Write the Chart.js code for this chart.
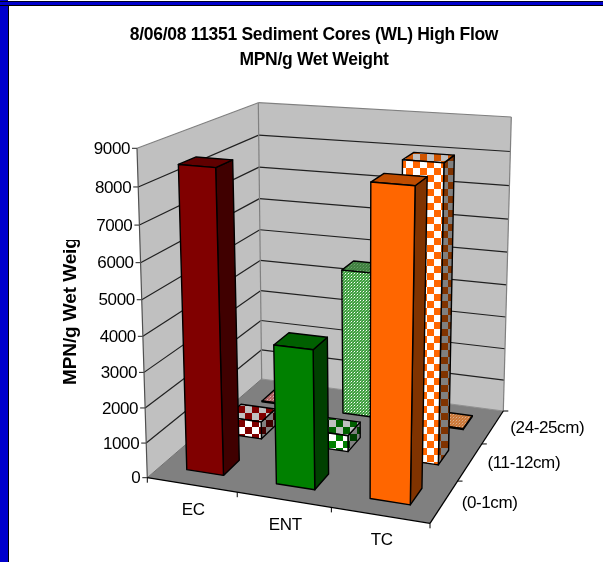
<!DOCTYPE html>
<html><head><meta charset="utf-8">
<style>
html,body{margin:0;padding:0;background:#fff;overflow:hidden}
#wrap{position:relative;width:603px;height:562px}
canvas{position:absolute;left:0;top:0}
.f{position:absolute}
</style>
<script src="https://cdn.jsdelivr.net/npm/chart.js@4/dist/chart.umd.min.js"></script>
</head><body>
<div id="wrap">
<canvas id="c" width="603" height="562"></canvas>
<div class="f" style="left:0;top:0;width:8px;height:562px;background:#0000cc"></div>
<div class="f" style="left:8px;top:6px;width:1px;height:556px;background:#000"></div>
<div class="f" style="left:0;top:1px;width:603px;height:5px;background:#0000cc;border-top:1px solid #000020;border-bottom:1px solid #000;box-sizing:border-box"></div>
</div>
<script>
const titleLines = ['8/06/08 11351 Sediment Cores (WL) High Flow', 'MPN/g Wet Weight'];
const yAxisTitle = 'MPN/g Wet Weight';
const categories = ['EC', 'ENT', 'TC'];
const depthLabels = ['(0-1cm)', '(11-12cm)', '(24-25cm)'];
const values0to1 = [8480, 3900, 8440];
const values11to12 = [520, 480, 8480];
const values24to25 = [30, 4500, 30];
const yMax = 9000, yStep = 1000;

const FONT = '"Liberation Sans", Arial, sans-serif';
// Screen placement of the 3D box (view only, no data)
const floorQ = [[147.3,477.7],[430,523.3],[503.3,411],[261.7,379]];
const roofQ  = [[137,148.3],[438.5,173],[511.3,117],[258.3,102.7]];
const persp = 0.94, depthPct = 0.40, depthShift = 0.005;

function quadMap(q){
  const [A,B,C,D]=q;
  const sx=A[0]-B[0]+C[0]-D[0], sy=A[1]-B[1]+C[1]-D[1];
  const dx1=B[0]-C[0], dx2=D[0]-C[0], dy1=B[1]-C[1], dy2=D[1]-C[1];
  const den=dx1*dy2-dx2*dy1;
  const g=(sx*dy2-dx2*sy)/den, h=(dx1*sy-sx*dy1)/den;
  const a=B[0]-A[0]+g*B[0], b=D[0]-A[0]+h*D[0], c=A[0];
  const d=B[1]-A[1]+g*B[1], e=D[1]-A[1]+h*D[1], f=A[1];
  return (u,v)=>{const w=g*u+h*v+1;return [(a*u+b*v+c)/w,(d*u+e*v+f)/w];};
}
const floorMap=quadMap(floorQ), roofMap=quadMap(roofQ);
function P(u,w,f){
  const b=floorMap(u,w), t=roofMap(u,w), k=persp*f, m=1-f;
  const den=m+k;
  return [(m*b[0]+k*t[0])/den,(m*b[1]+k*t[1])/den];
}
function pat(size,fn){
  const c=document.createElement('canvas');c.width=c.height=size;
  fn(c.getContext('2d'));
  return document.getElementById('c').getContext('2d').createPattern(c,'repeat');
}
function checker(a,b){const s=7;return pat(s*2,x=>{x.fillStyle=a;x.fillRect(0,0,s*2,s*2);x.fillStyle=b;x.fillRect(0,0,s,s);x.fillRect(s,s,s,s);});}
function dots(a,b){return pat(3,x=>{x.fillStyle=a;x.fillRect(0,0,3,3);x.fillStyle=b;x.fillRect(0,0,1,1);x.globalAlpha=.45;x.fillRect(2,1,1,1);x.globalAlpha=.25;x.fillRect(1,2,1,1);});}
const colors={
  solid:[['#800000','#400000','#600000'],['#008000','#004000','#006000'],['#ff6600','#803300','#c04d00']],
  check:[[checker('#fff','#800000'),checker('#808080','#400000'),checker('#c0c0c0','#800000')],
         [checker('#fff','#008000'),checker('#808080','#004000'),checker('#c0c0c0','#006000')],
         [checker('#fff','#ff6600'),checker('#808080','#803300'),checker('#c0c0c0','#d05500')]],
  dot:[[dots('#b85858','#e8d0d0'),dots('#603030','#808080'),dots('#b06060','#d0b0b0')],
       [dots('#40a040','#ffffff'),dots('#205020','#808080'),dots('#3f803f','#70a070')],
       [dots('#c87840','#d8b090'),dots('#803300','#808080'),dots('#cc7838','#d8b090')]]
};
function poly(ctx,pts,fill,stroke,lw){
  ctx.beginPath();pts.forEach((p,i)=>i?ctx.lineTo(p[0],p[1]):ctx.moveTo(p[0],p[1]));ctx.closePath();
  if(fill){ctx.fillStyle=fill;ctx.fill();}
  if(stroke){ctx.strokeStyle=stroke;ctx.lineWidth=lw||1;ctx.lineJoin='round';ctx.stroke();}
}
function seg(ctx,a,b,col,lw){ctx.beginPath();ctx.moveTo(a[0],a[1]);ctx.lineTo(b[0],b[1]);ctx.strokeStyle=col;ctx.lineWidth=lw||1;ctx.stroke();}

const box3d={id:'box3d',
  beforeDraw(chart){chart.ctx.letterSpacing='-0.3px';},
  beforeDatasetsDraw(chart){
    const ctx=chart.ctx, xs=chart.scales.x, ys=chart.scales.y, ds=chart.scales.d, area=chart.chartArea;
    const U=px=>(px-area.left)/area.width, F=py=>(area.bottom-py)/area.height;
    ctx.save();
    ctx.letterSpacing='-0.4px';
    // walls and floor
    poly(ctx,[P(0,0,0),P(0,1,0),P(0,1,1),P(0,0,1)],'#c0c0c0');
    poly(ctx,[P(0,1,0),P(1,1,0),P(1,1,1),P(0,1,1)],'#c0c0c0');
    poly(ctx,[P(0,0,0),P(1,0,0),P(1,1,0),P(0,1,0)],'#808080');
    // gridlines and value ticks
    ctx.font='17px '+FONT;ctx.textAlign='right';ctx.textBaseline='middle';
    ys.ticks.forEach(t=>{
      const f=F(ys.getPixelForValue(t.value));
      const a=P(0,0,f),b=P(0,1,f),c=P(1,1,f);
      const col=(f>0.999||f<0.001)?'#808080':'#202020';
      if(f>0.001){seg(ctx,a,b,col,1.2);seg(ctx,b,c,col,1.2);}
      seg(ctx,a,[a[0]-5,a[1]],'#202020',1);
      ctx.fillStyle='#000';
      ctx.fillText(String(t.value),a[0]-7,a[1]+1);
    });
    seg(ctx,P(0,1,0),P(0,1,1),'#808080',1.2);
    seg(ctx,P(1,1,0),P(1,1,1),'#808080',1.2);
    seg(ctx,P(0,1,0),P(1,1,0),'#909090',1.2);
    seg(ctx,P(0,0,0),P(0,1,0),'#707070',1);
    seg(ctx,P(0,0,0),P(0,0,1),'#505050',1.2);
    // floor edges, category ticks
    seg(ctx,P(0,0,0),P(1,0,0),'#000',1.3);
    seg(ctx,P(1,0,0),P(1,1,0),'#000',1.3);
    ctx.textAlign='center';
    const n=categories.length;
    for(let i=0;i<=n;i++){const p=P(i/n,0,0);seg(ctx,p,[p[0],p[1]+5],'#000',1);}
    for(let j=1;j<=n;j++){const p=P(1,j/n,0);seg(ctx,p,[p[0]+5,p[1]],'#000',1);}
    categories.forEach((c,i)=>{
      const p=P(U(xs.getPixelForValue(i)),0,0);
      ctx.fillStyle='#000';ctx.fillText(c,p[0]+1.5,p[1]+25.5);
    });
    ctx.textAlign='left';
    depthLabels.forEach((c,j)=>{
      const p=P(1,U(ds.getPixelForValue(j)),0);
      ctx.fillStyle='#000';ctx.fillText(c,p[0]+17.5,p[1]+1.5);
    });
    // bars, back row first, left to right
    const style=['solid','check','dot'];
    for(let di=chart.data.datasets.length-1;di>=0;di--){
      const meta=chart.getDatasetMeta(di);
      const wc=U(ds.getPixelForValue(di))+depthShift, wh=depthPct/ds.getLabels().length/2;
      meta.data.forEach((el,i)=>{
        const u0=U(el.x-el.width/2),u1=U(el.x+el.width/2),w0=wc-wh,w1=wc+wh,f=F(el.y);
        const c=colors[style[di]][i];
        const A=P(u0,w0,0),B=P(u1,w0,0),C=P(u1,w1,0);
        const D=P(u0,w0,f),E=P(u1,w0,f),G=P(u1,w1,f),H=P(u0,w1,f);
        poly(ctx,[B,C,G,E],c[1],'#000',1.4);
        poly(ctx,[D,E,G,H],c[2],'#000',1.4);
        poly(ctx,[A,B,E,D],c[0],'#000',1.4);
      });
    }
    // rotated axis title, cut off by its box as in the picture
    ctx.save();
    ctx.beginPath();ctx.rect(50,240,40,160);ctx.clip();
    ctx.translate(71,385);ctx.rotate(-Math.PI/2);
    ctx.letterSpacing='-0.1px';
    ctx.font='bold 19px '+FONT;ctx.textAlign='left';ctx.textBaseline='middle';ctx.fillStyle='#000';
    ctx.fillText(yAxisTitle,0,0);
    ctx.restore();
    ctx.restore();
    return false;
  }
};
new Chart(document.getElementById('c'),{
  type:'bar',
  data:{labels:categories,datasets:[
    {label:depthLabels[0],data:values0to1,backgroundColor:'#800000'},
    {label:depthLabels[1],data:values11to12,backgroundColor:'#008000'},
    {label:depthLabels[2],data:values24to25,backgroundColor:'#ff6600'}
  ]},
  options:{responsive:false,animation:false,
    layout:{padding:{left:25}},
    datasets:{bar:{grouped:false,barPercentage:0.415,categoryPercentage:1}},
    plugins:{legend:{display:false},tooltip:{enabled:false},
      title:{display:true,text:titleLines,color:'#000',align:'center',
        font:{family:FONT,size:17.5,weight:'bold',lineHeight:1.45},padding:{top:22,bottom:10}}},
    scales:{
      x:{display:false,offset:true},
      d:{type:'category',axis:'x',labels:depthLabels,offset:true,display:false},
      y:{display:false,min:0,max:yMax,ticks:{stepSize:yStep}}
    }
  },
  plugins:[box3d]
});
</script>
</body></html>
